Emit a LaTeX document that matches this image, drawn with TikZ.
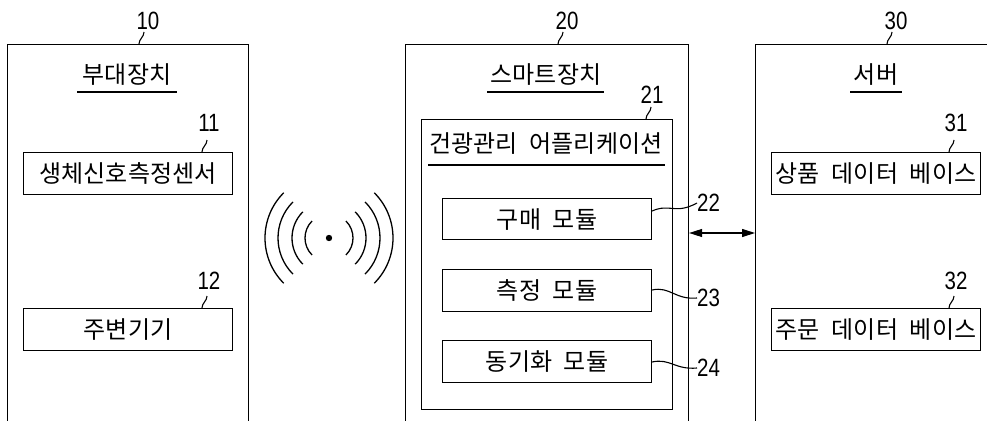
\documentclass[tikz,border=0pt]{standalone}
\usepackage{fontspec}
\setmainfont{Noto Sans CJK KR}[WordSpace=2.2]
\newfontfamily\numfont{Liberation Sans}[FakeStretch=0.82]
\usetikzlibrary{arrows.meta,calc}
\tikzset{
  ln/.style={line width=1.1pt},
  outer/.style={draw, ln, rectangle, inner sep=0pt, anchor=north west},
  inbox/.style={draw, ln, rectangle, inner sep=0pt, anchor=north west},
  kor/.style={font=\fontsize{24}{26}\selectfont, inner sep=0pt},
  num/.style={font=\numfont\fontsize{25}{27}\selectfont, inner sep=0pt},
  tick/.style={ln},
  wave/.style={line width=1.3pt},
}
\begin{document}
\begin{tikzpicture}[x=1pt,y=-1pt]
\useasboundingbox (0,0) rectangle (987,420);
\clip (0,0) rectangle (987,420);
% outer boxes
\node[outer, minimum width=241, minimum height=400] (b10) at (7,44) {};
\node[outer, minimum width=283, minimum height=400] (b20) at (405,44) {};
\node[outer, minimum width=260, minimum height=400] (b30) at (755,44) {};
% inner app box
\node[inbox, minimum width=251, minimum height=290] (b21) at (421,119) {};
% sub boxes
\node[inbox, minimum width=209, minimum height=42] (b11) at (23,152) {};
\node[inbox, minimum width=209, minimum height=42] (b12) at (23,308) {};
\node[inbox, minimum width=209, minimum height=41] (b22) at (442,198) {};
\node[inbox, minimum width=209, minimum height=42] (b23) at (442,269) {};
\node[inbox, minimum width=209, minimum height=42] (b24) at (442,340) {};
\node[inbox, minimum width=209, minimum height=42] (b31) at (771,152) {};
\node[inbox, minimum width=209, minimum height=42] (b32) at (771,308) {};
% texts
\node[kor] (t10) at (127,75) {부대장치};
\node[kor] (t20) at (546,75) {스마트장치};
\node[kor] (t30) at (876,75) {서버};
\node[kor] (t21) at (546,144) {건광관리 어플리케이션};
\node[kor] (t11) at (b11.center) {생체신호측정센서};
\node[kor] (t12) at (b12.center) {주변기기};
\node[kor] (t22) at (b22.center) {구매 모듈};
\node[kor] (t23) at (b23.center) {측정 모듈};
\node[kor] (t24) at (b24.center) {동기화 모듈};
\node[kor] (t31) at (b31.center) {상품 데이터 베이스};
\node[kor] (t32) at (b32.center) {주문 데이터 베이스};
% underlines
\draw[ln] (77,92) -- (177,92);
\draw[ln] (487,92) -- (604,92);
\draw[ln] (850,92) -- (902,92);
\draw[ln] (428,165) -- (665,165);
% reference numerals
\node[num] (n10) at (148,21) {10};
\node[num] (n20) at (567,21) {20};
\node[num] (n30) at (896,21) {30};
\node[num] (n11) at (209,123) {11};
\node[num] (n12) at (209,281) {12};
\node[num] (n21) at (652,95) {21};
\node[num] (n31) at (956,123) {31};
\node[num] (n32) at (956,281) {32};
\node[num, anchor=west] (n22) at (697,203) {22};
\node[num, anchor=west] (n23) at (697,298) {23};
\node[num, anchor=west] (n24) at (697,368) {24};
% ticks
\coordinate (k10) at (139,44); \coordinate (k20) at (558,44); \coordinate (k30) at (887,44);
\coordinate (k11) at (202,152); \coordinate (k12) at (202,308); \coordinate (k21) at (646,119);
\coordinate (k31) at (949,152); \coordinate (k32) at (949,308);
\foreach \k in {10,20,30,11,12,21,31,32}{
  \draw[tick] (k\k) .. controls ($(k\k)+(0,-5)$) and ($(k\k)+(5,-7)$) .. ($(k\k)+(5,-12)$);
}
% leaders
\draw[tick] (b22.east |- 0,211) .. controls (670,203) and (675,215) .. (n22.west);
\draw[tick] (b23.east |- 0,290) .. controls (670,286) and (675,300) .. (n23.west);
\draw[tick] (b24.east |- 0,362) .. controls (670,358) and (675,370) .. (n24.west);
% connection
\draw[ln, {Triangle[length=13pt,width=8pt]}-{Triangle[length=13pt,width=8pt]}] (b20.east |- 0,233) -- (b30.west |- 0,233);
% wireless symbol
\coordinate (w) at (329,238);
\fill (w) circle (3.2);
\foreach \r in {24,37,51,64}{
  \draw[wave] ($(w)+(135:\r)$) arc[start angle=135, end angle=225, radius=\r];
  \draw[wave] ($(w)+(-45:\r)$) arc[start angle=-45, end angle=45, radius=\r];
}
\end{tikzpicture}
\end{document}
